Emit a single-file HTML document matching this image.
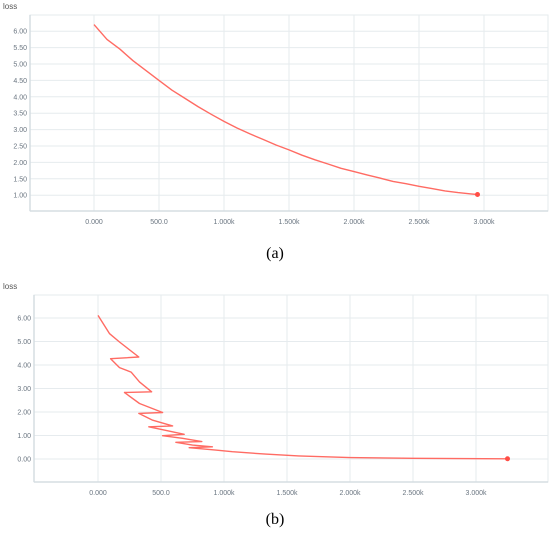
<!DOCTYPE html>
<html><head><meta charset="utf-8"><style>
html,body{margin:0;padding:0;background:#fff;}
svg{display:block;font-family:"Liberation Sans",sans-serif;}
.t{font-size:7px;fill:#6a7580;}
</style></head><body>
<svg id="s" width="550" height="535" viewBox="0 0 550 535">
<text x="3" y="9" font-size="8" fill="#555">loss</text>
<text x="3" y="289" font-size="8" fill="#555">loss</text>
<text x="275" y="258" font-size="16" text-anchor="middle" font-family="Liberation Serif,serif">(a)</text>
<text x="275" y="524" font-size="16" text-anchor="middle" font-family="Liberation Serif,serif">(b)</text>
<g id="ga"></g>
<g id="gb"></g>
</svg>
<script>
const aX=[0,100,200,300,400,500,600,700,800,900,1000,1100,1200,1300,1400,1500,1600,1700,1800,1900,2000,2100,2200,2300,2400,2500,2600,2700,2800,2900,2950];
const aY=[6.2,5.75,5.45,5.1,4.8,4.5,4.2,3.95,3.7,3.47,3.25,3.05,2.87,2.7,2.53,2.38,2.22,2.08,1.95,1.82,1.72,1.62,1.52,1.42,1.35,1.27,1.2,1.13,1.08,1.04,1.02];
const aYTicks=[1.0,1.5,2.0,2.5,3.0,3.5,4.0,4.5,5.0,5.5,6.0];
const aXTicks=[0,500,1000,1500,2000,2500,3000];
const aXLabels=["0.000","500.0","1.000k","1.500k","2.000k","2.500k","3.000k"];
const bX=[0,92,171,324,100,171,263,329,425,210,329,513,324,434,592,403,526,684,513,671,824,618,750,908,724,934,1066,1329,1592,2000,2500,3250];
const bY=[6.11,5.33,4.98,4.34,4.27,3.89,3.7,3.28,2.86,2.83,2.36,1.98,1.94,1.65,1.41,1.37,1.23,1.05,0.99,0.88,0.74,0.71,0.59,0.52,0.48,0.38,0.31,0.21,0.13,0.06,0.03,0.01];
const bYTicks=[0,1,2,3,4,5,6];
const bXTicks=[0,500,1000,1500,2000,2500,3000];
const bXLabels=["0.000","500.0","1.000k","1.500k","2.000k","2.500k","3.000k"];
const NS="http://www.w3.org/2000/svg";
function mk(p,tag,at){const e=document.createElementNS(NS,tag);for(const k in at)e.setAttribute(k,at[k]);p.appendChild(e);return e;}
function chart(g,cfg){
  const sx=v=>cfg.x0+v*cfg.kx, sy=v=>cfg.y0-v*cfg.ky;
  const f=mk(g,'rect',{x:cfg.L,y:cfg.T,width:cfg.R-cfg.L,height:cfg.B-cfg.T,fill:'none',stroke:'#e6ebee','stroke-width':1});
  
  
  cfg.yt.forEach(v=>{
    const l=mk(g,'line',{x1:cfg.L,x2:cfg.R,y1:sy(v),y2:sy(v),stroke:'#e6ebee','stroke-width':1});
    
    
    const t=mk(g,'text',{x:cfg.L-3,y:sy(v)+2.5,'text-anchor':'end',class:'t'});t.textContent=v.toFixed(2);
    
    
  });
  cfg.xt.forEach((v,i)=>{
    const l=mk(g,'line',{x1:sx(v),x2:sx(v),y1:cfg.T,y2:cfg.B,stroke:'#e6ebee','stroke-width':1});
    
    
    const t=mk(g,'text',{x:sx(v),y:cfg.B+13,'text-anchor':'middle',class:'t'});t.textContent=cfg.xl[i];
    
    
  });
  const ax=mk(g,'line',{x1:cfg.L,x2:cfg.R,y1:cfg.B,y2:cfg.B,stroke:'#d5dde2','stroke-width':1.5});
  
  
  const ay=mk(g,'line',{x1:cfg.L,x2:cfg.L,y1:cfg.T,y2:cfg.B,stroke:'#d5dde2','stroke-width':1.5});
  
  
  const pts=cfg.xs.map((x,i)=>sx(x).toFixed(1)+','+sy(cfg.ys[i]).toFixed(1)).join(' ');
  const pl=mk(g,'polyline',{points:pts,fill:'none',stroke:'#ff6b63','stroke-width':1.4,'stroke-linejoin':'round'});
  
  
  const n=cfg.xs.length-1;
  const c=mk(g,'circle',{cx:sx(cfg.xs[n]),cy:sy(cfg.ys[n]),r:2.5,fill:'#ff4d45'});
  
  
}
chart(document.getElementById('ga'),{L:30,R:548,T:15,B:211,x0:94,kx:65/500,y0:228,ky:32.8,xs:aX,ys:aY,yt:aYTicks,xt:aXTicks,xl:aXLabels});
chart(document.getElementById('gb'),{L:34,R:548,T:295,B:482,x0:98,kx:63/500,y0:459,ky:23.5,xs:bX,ys:bY,yt:bYTicks,xt:bXTicks,xl:bXLabels});
</script>
</body></html>
